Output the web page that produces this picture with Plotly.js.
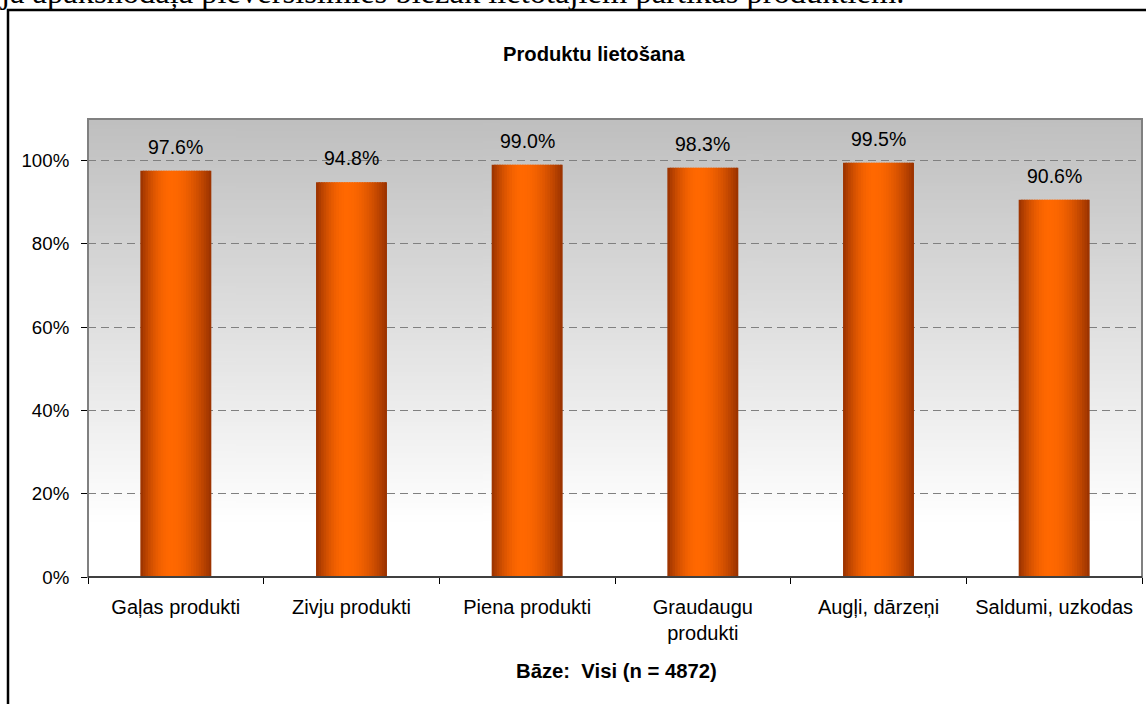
<!DOCTYPE html>
<html>
<head>
<meta charset="utf-8">
<script src="https://cdn.plot.ly/plotly-3.0.1.min.js"></script>
<style>html,body{margin:0;padding:0;background:#fff;}#chart{width:1146px;height:704px;}</style>
</head>
<body>
<div id="chart"></div>
<script>
// ---- data ----
const categories = ['Gaļas produkti', 'Zivju produkti', 'Piena produkti', 'Graudaugu<br>produkti', 'Augļi, dārzeņi', 'Saldumi, uzkodas'];
const values = [97.6, 94.8, 99.0, 98.3, 99.5, 90.6];
const yTicks = [0, 20, 40, 60, 80, 100];
const chartTitle = 'Produktu lietošana';
const baseText = 'Bāze:  Visi (n = 4872)';
const pageText = 'ja apakšnodaļā pievērsīsimies biežāk lietotajiem pārtikas produktiem.';

// ---- layout geometry ----
const W = 1146, H = 704, L = 88, R = 4, T = 119, B = 127;
const pw = W - L - R, ph = H - T - B;
const px2x = p => (p - L) / pw;
const px2y = p => (H - B - p) / ph;
const FONT = 'Liberation Sans, Arial, sans-serif';

// background gradient image for plot area
const cv = document.createElement('canvas');
cv.width = 4; cv.height = 256;
const cx = cv.getContext('2d');
const g = cx.createLinearGradient(0, 0, 0, 256);
g.addColorStop(0, '#bfbfbf');
g.addColorStop(0.88, '#ffffff');
g.addColorStop(1, '#ffffff');
cx.fillStyle = g; cx.fillRect(0, 0, 4, 256);
const bgURL = cv.toDataURL();

// bar cylinder shading via strips
const BW = 0.404, N = 28;
const dark = [150, 48, 0], bright = [255, 104, 0], peak = 0.43;
const traces = [];
for (let i = 0; i < N; i++) {
  const t = (i + 0.5) / N;
  const s = t < peak ? t / peak : (1 - t) / (1 - peak);
  const k = Math.pow(Math.sin(s * Math.PI / 2), 0.9);
  const c = dark.map((d, j) => Math.round(d + (bright[j] - d) * k));
  const step = BW / N;
  traces.push({
    type: 'bar', x: categories, y: values,
    offset: -BW / 2 + i * step,
    width: i === N - 1 ? step : step * 1.6,
    marker: {color: 'rgb(' + c.join(',') + ')', line: {width: 0}},
    hoverinfo: 'skip', showlegend: false
  });
}

const annotations = values.map((v, i) => ({
  x: categories[i], y: v, xref: 'x', yref: 'y', text: v.toFixed(1) + '%',
  showarrow: false, yanchor: 'bottom', yshift: 11,
  font: {family: FONT, size: 19.5, color: '#000'}
}));
annotations.push({
  xref: 'paper', yref: 'paper', x: px2x(594), y: px2y(54), xanchor: 'center', yanchor: 'middle',
  text: '<b>' + chartTitle + '</b>', showarrow: false, font: {family: FONT, size: 20.2, color: '#000'}
});
annotations.push({
  xref: 'paper', yref: 'paper', x: px2x(616.5), y: px2y(671), xanchor: 'center', yanchor: 'middle',
  text: '<b>' + baseText + '</b>', showarrow: false, font: {family: FONT, size: 20.3, color: '#000'}
});
annotations.push({
  xref: 'paper', yref: 'paper', x: px2x(-2), y: px2y(12), xanchor: 'left', yanchor: 'bottom',
  text: pageText, showarrow: false, font: {family: 'Liberation Serif, Times New Roman, serif', size: 32.5, color: '#000'}
});

const layout = {
  width: W, height: H,
  margin: {l: L, r: R, t: T, b: B, pad: 0},
  paper_bgcolor: '#ffffff', plot_bgcolor: 'rgba(0,0,0,0)',
  barmode: 'overlay', showlegend: false,
  images: [{source: bgURL, xref: 'paper', yref: 'paper', x: 0, y: 1, sizex: 1, sizey: 1,
            sizing: 'stretch', layer: 'below', xanchor: 'left', yanchor: 'top'}],
  xaxis: {
    type: 'category', range: [-0.5, 5.5], fixedrange: true,
    tickson: 'boundaries', ticks: 'outside', ticklen: 6, tickcolor: '#000', tickwidth: 1,
    showline: true, linecolor: '#000', linewidth: 1, showgrid: false, zeroline: false,
    tickfont: {family: FONT, size: 20, color: '#000'}, ticklabelstandoff: 12
  },
  yaxis: {
    range: [0, 110], fixedrange: true, tickvals: yTicks, ticktext: yTicks.map(v => v + '%'),
    ticks: 'outside', ticklen: 6, tickcolor: '#000', tickwidth: 1,
    showline: true, linecolor: '#808080', linewidth: 1,
    showgrid: true, gridcolor: '#808080', griddash: '8px,5px', gridwidth: 1, zeroline: false,
    tickfont: {family: FONT, size: 18.7, color: '#000'}, ticklabelstandoff: 8
  },
  shapes: [
    {type: 'rect', xref: 'paper', yref: 'paper', x0: 0, x1: 1, y0: 0, y1: 1,
     line: {color: '#808080', width: 2}, layer: 'above'},
    {type: 'line', xref: 'paper', yref: 'paper', x0: 0, x1: 1, y0: 0, y1: 0,
     line: {color: '#000', width: 1}, layer: 'above'},
    {type: 'rect', xref: 'paper', yref: 'paper', x0: px2x(8), x1: px2x(1250), y0: px2y(10), y1: px2y(800),
     line: {color: '#000', width: 2.5}, layer: 'above'}
  ],
  annotations: annotations
};

Plotly.newPlot('chart', traces, layout, {displayModeBar: false, staticPlot: true});
</script>
</body>
</html>
